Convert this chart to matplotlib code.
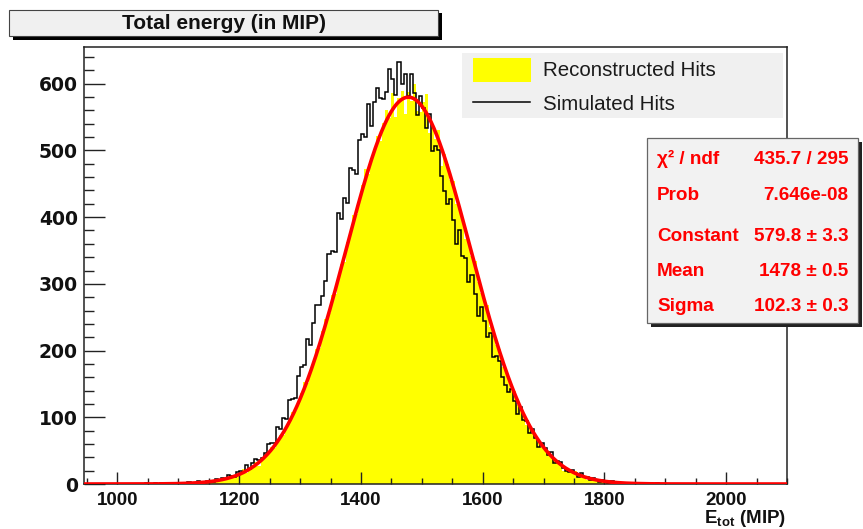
import numpy as np
import matplotlib
matplotlib.use("Agg")
import matplotlib.pyplot as plt
from matplotlib.patches import Rectangle
from matplotlib.lines import Line2D
from matplotlib.ticker import MultipleLocator, FixedLocator

plt.rcParams["font.family"] = ["Liberation Sans", "DejaVu Sans"]
plt.rcParams["mathtext.fontset"] = "custom"
plt.rcParams["mathtext.rm"] = "Liberation Sans"
plt.rcParams["mathtext.bf"] = "Liberation Sans:bold"
plt.rcParams["mathtext.it"] = "Liberation Sans:italic"

# ---------------------------------------------------------------- data
# histogram binning (MIP)
bin_start = 1040.0
bin_width = 5.0

# counts per bin, reconstructed hits (filled histogram)
reconstructed_hits = [
    0, 0, 0, 1, 0, 0, 0, 0, 0, 1,
    0, 0, 1, 0, 1, 1, 0, 2, 1, 3,
    4, 3, 6, 3, 5, 7, 4, 9, 8, 13,
    10, 12, 17, 23, 16, 23, 24, 33, 27, 39,
    43, 45, 55, 54, 64, 73, 73, 87, 93, 108,
    110, 121, 137, 153, 152, 171, 181, 203, 204, 230,
    247, 256, 283, 285, 310, 330, 333, 362, 375, 403,
    404, 422, 448, 472, 464, 489, 497, 522, 514, 541,
    561, 548, 586, 550, 578, 589, 555, 587, 574, 599,
    559, 557, 572, 584, 526, 539, 517, 530, 477, 495,
    480, 455, 454, 419, 413, 399, 367, 362, 341, 334,
    303, 287, 278, 268, 236, 228, 209, 203, 176, 173,
    161, 144, 140, 119, 114, 106, 89, 87, 77, 74,
    61, 56, 53, 50, 39, 37, 31, 33, 20, 24,
    23, 16, 20, 11, 13, 12, 6, 9, 6, 8,
    4, 3, 5, 5, 1, 2, 2, 3, 0, 2,
    1, 0, 1, 0, 0, 1, 0, 0, 0, 0,
    1, 0, 0, 0, 0, 0,
]

# counts per bin, simulated hits (line histogram)
simulated_hits = [
    0, 1, 0, 0, 2, 0, 1, 0, 0, 1,
    0, 2, 0, 1, 0, 3, 1, 2, 4, 2,
    2, 5, 4, 3, 8, 6, 9, 7, 13, 12,
    10, 18, 19, 18, 28, 22, 31, 38, 36, 39,
    46, 60, 62, 61, 85, 83, 99, 98, 126, 128,
    129, 162, 175, 179, 217, 208, 241, 268, 269, 282,
    304, 344, 349, 348, 406, 397, 429, 421, 473, 471,
    464, 516, 525, 520, 569, 537, 572, 594, 578, 577,
    588, 622, 607, 583, 632, 599, 614, 581, 614, 586,
    553, 582, 564, 533, 554, 499, 506, 501, 462, 439,
    419, 427, 396, 359, 381, 342, 338, 303, 314, 285,
    252, 265, 245, 220, 227, 190, 192, 185, 161, 148,
    138, 143, 124, 105, 116, 96, 94, 76, 83, 69,
    56, 62, 54, 43, 48, 32, 34, 33, 24, 20,
    18, 21, 16, 10, 16, 10, 11, 6, 9, 6,
    3, 6, 4, 2, 4, 1, 2, 2, 0, 1,
    0, 1, 0, 0, 1, 0, 0, 0, 0, 2,
    0, 0, 0, 0, 0, 0,
]

# gaussian fit results
fit_constant, fit_constant_err = 579.8, 3.3
fit_mean, fit_mean_err = 1478.0, 0.5
fit_sigma, fit_sigma_err = 102.3, 0.3
fit_chi2, fit_ndf = 435.7, 295
fit_prob = 7.646e-08

title = "Total energy (in MIP)"
x_label = r"$\mathbf{E_{tot}}$ (MIP)"
x_ticks = [1000, 1200, 1400, 1600, 1800, 2000]
y_ticks = [0, 100, 200, 300, 400, 500, 600]
legend_labels = ["Reconstructed Hits", "Simulated Hits"]

# ---------------------------------------------------------------- figure
W, H, DPI = 863, 529, 100
fig = plt.figure(figsize=(W / DPI, H / DPI), dpi=DPI)
fig.patch.set_facecolor("white")


def fx(px):
    return px / W


def fy(py):
    return 1.0 - py / H


frame_l, frame_r, frame_t, frame_b = 84, 787, 47, 484
ax = fig.add_axes([fx(frame_l), fy(frame_b), (frame_r - frame_l) / W,
                   (frame_b - frame_t) / H])

edges = bin_start + bin_width * np.arange(len(reconstructed_hits) + 1)
ax.stairs(reconstructed_hits, edges, fill=True, color="#ffff00",
          lw=0, zorder=1)
ax.stairs(simulated_hits, edges, color="black", lw=1.1, zorder=2)

x_lo, x_hi = 945, 2100
xf = np.linspace(x_lo, x_hi, 1500)
yf = fit_constant * np.exp(-0.5 * ((xf - fit_mean) / fit_sigma) ** 2)
ax.plot(xf, yf, color="#ff0000", lw=2.6, zorder=3, solid_capstyle="butt")

ax.set_xlim(x_lo, x_hi)
ax.set_ylim(0, 655)

ax.xaxis.set_major_locator(FixedLocator(x_ticks))
ax.yaxis.set_major_locator(FixedLocator(y_ticks))
ax.xaxis.set_minor_locator(MultipleLocator(50))
ax.yaxis.set_minor_locator(MultipleLocator(20))

frame_col = "#222222"
for sp in ax.spines.values():
    sp.set_color(frame_col)
    sp.set_linewidth(1.1)

ax.tick_params(which="both", direction="in", top=False, right=False,
               colors=frame_col, labelcolor="#111111", labelsize=13.5,
               width=1.0)
ax.tick_params(axis="y", which="major", length=15, pad=4.5)
ax.tick_params(axis="y", which="minor", length=7.2)
ax.tick_params(axis="x", which="major", length=9, pad=5.8)
ax.tick_params(axis="x", which="minor", length=4.3)
for lbl in ax.get_xticklabels():
    lbl.set_fontweight("bold")
for lbl in ax.get_yticklabels():
    lbl.set_fontfamily("DejaVu Sans")
    lbl.set_fontweight("bold")
    lbl.set_fontsize(13.5)

fig.text(fx(786), fy(523), x_label, ha="right", va="baseline",
         fontsize=13.5, fontweight="bold", color="#111111")

# title box with drop shadow
fig.add_artist(Rectangle((fx(13), fy(39.5)), 429 / W, 26 / H,
                         transform=fig.transFigure, facecolor="black",
                         edgecolor="none", zorder=5))
fig.add_artist(Rectangle((fx(9), fy(36)), 429 / W, 26 / H,
                         transform=fig.transFigure, facecolor="#f0f0f0",
                         edgecolor="#444444", lw=0.8, zorder=6))
fig.text(fx(223.5), fy(29), title, ha="center", va="baseline",
         fontsize=15, fontweight="bold", color="#111111", zorder=7)

# legend
fig.add_artist(Rectangle((fx(462), fy(118)), (783 - 462) / W, 65 / H,
                         transform=fig.transFigure, facecolor="#f0f0f0",
                         edgecolor="none", zorder=5))
fig.add_artist(Rectangle((fx(473), fy(82)), 58 / W, 24 / H,
                         transform=fig.transFigure, facecolor="#ffff00",
                         edgecolor="none", zorder=6))
fig.add_artist(Line2D([fx(473), fx(530)], [fy(102), fy(102)],
                      transform=fig.transFigure, color="black", lw=1.1,
                      zorder=6))
fig.text(fx(543), fy(76), legend_labels[0], ha="left", va="baseline",
         fontsize=14.8, color="#1a1a1a", zorder=7)
fig.text(fx(543), fy(110.5), legend_labels[1], ha="left", va="baseline",
         fontsize=14.8, color="#1a1a1a", zorder=7)

# fit statistics box
fig.add_artist(Rectangle((fx(650.5), fy(326.5)), 211 / W, 185 / H,
                         transform=fig.transFigure, facecolor="#222222",
                         edgecolor="none", zorder=5))
fig.add_artist(Rectangle((fx(647), fy(323)), 211 / W, 185 / H,
                         transform=fig.transFigure, facecolor="#f2f2f2",
                         edgecolor="#666666", lw=0.9, zorder=6))

stat_rows = [
    ("χ² / ndf", f"{fit_chi2:.1f} / {fit_ndf}"),
    ("Prob", f"{fit_prob:.3e}"),
    ("Constant", f"{fit_constant:.1f} ± {fit_constant_err:.1f}"),
    ("Mean", f"{fit_mean:.0f} ± {fit_mean_err:.1f}"),
    ("Sigma", f"{fit_sigma:.1f} ± {fit_sigma_err:.1f}"),
]
row_baselines = [164.5, 200.5, 241.0, 276.5, 311.0]
for (name, value), yb in zip(stat_rows, row_baselines):
    fig.text(fx(657), fy(yb), name, ha="left", va="baseline",
             fontsize=13.6, fontweight="bold", color="#ff0000", zorder=7)
    fig.text(fx(848), fy(yb), value, ha="right", va="baseline",
             fontsize=13.6, fontweight="bold", color="#ff0000", zorder=7)

fig.savefig("out.png", dpi=DPI, facecolor="white")
